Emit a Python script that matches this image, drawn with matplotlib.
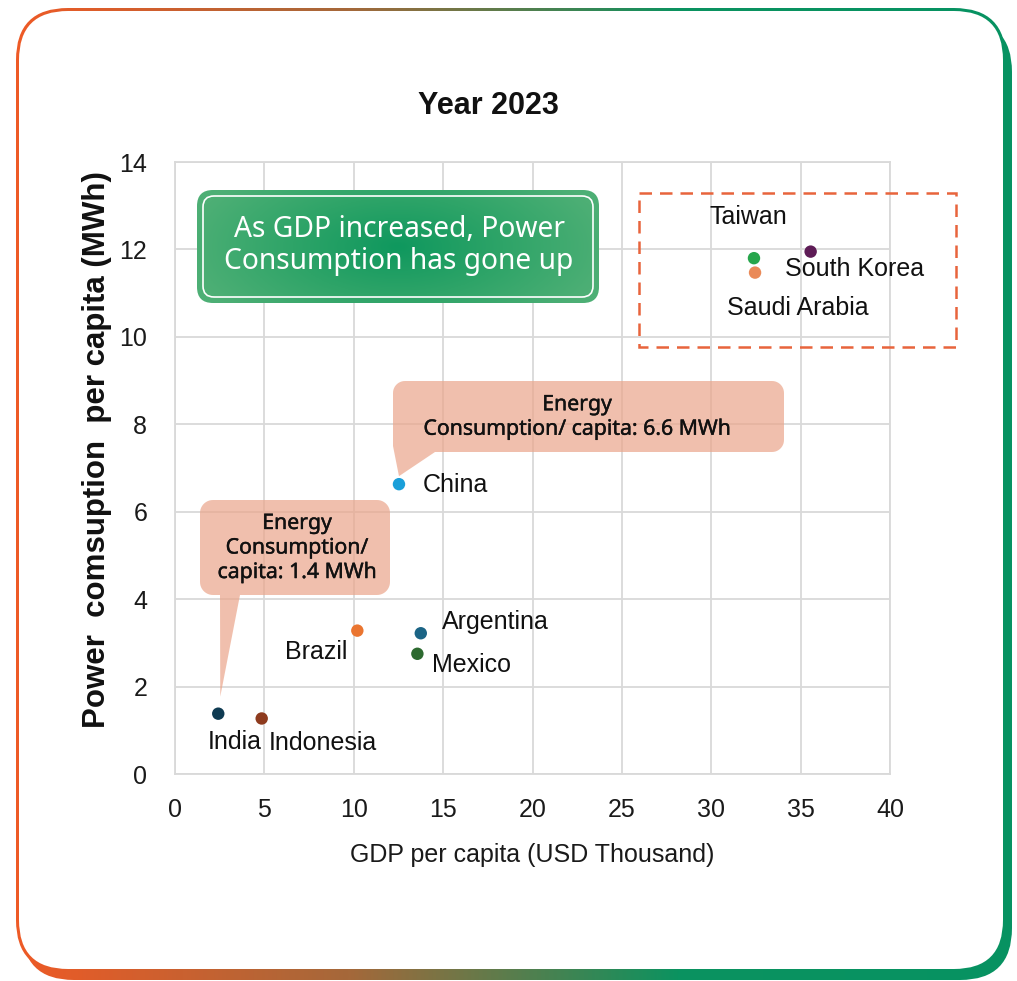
import numpy as np
import matplotlib
matplotlib.use("Agg")
import matplotlib.pyplot as plt
import matplotlib.patheffects as pe
from matplotlib.patches import FancyBboxPatch, Rectangle, PathPatch
from matplotlib.path import Path
from matplotlib.colors import LinearSegmentedColormap

# ---------------- data ----------------
countries = ["India", "Indonesia", "Brazil", "Argentina", "Mexico", "China",
             "Taiwan", "Saudi Arabia", "South Korea"]
gdp_per_capita = [2.42, 4.85, 10.2, 13.75, 13.56, 12.53, 32.39, 32.45, 35.56]
power_per_capita = [1.38, 1.27, 3.28, 3.22, 2.75, 6.63, 11.80, 11.47, 11.95]
point_colors = ["#0f3b52", "#8e3b1e", "#ea7530", "#1b6485", "#2d6a30",
                "#1a9fd9", "#27a64c", "#ea8a58", "#5e1c56"]
x_ticks = [0, 5, 10, 15, 20, 25, 30, 35, 40]
y_ticks = [0, 2, 4, 6, 8, 10, 12, 14]
title = "Year 2023"
x_label = "GDP per capita (USD Thousand)"
y_label = "Power  comsuption  per capita (MWh)"
headline = "As GDP increased, Power\nConsumption has gone up"
callout_china = "Energy\nConsumption/ capita: 6.6 MWh"
callout_india = "Energy\nConsumption/\ncapita: 1.4 MWh"

# label offsets (points) relative to each marker, with horizontal alignment
label_offsets = {
    "India": (-7.9, -20.2, "left"),
    "Indonesia": (5.0, -17.3, "left"),
    "Brazil": (-7.2, -15.1, "right"),
    "Argentina": (15.1, 7.9, "left"),
    "Mexico": (10.8, -7.9, "left"),
    "China": (17.3, -0.7, "left"),
    "Taiwan": (-31.7, 29.5, "left"),
    "Saudi Arabia": (-20.0, -25.2, "left"),
    "South Korea": (-18.7, -12.2, "left"),
}

W, H = 1017, 981
DPI = 100
plt.rcParams["font.family"] = ["Liberation Sans", "DejaVu Sans"]
fig = plt.figure(figsize=(W / DPI, H / DPI), dpi=DPI)
fig.patch.set_facecolor("white")

# ---------------- background frame (pixel coords) ----------------
bg = fig.add_axes([0, 0, 1, 1], zorder=-10)
bg.set_xlim(0, W)
bg.set_ylim(H, 0)
bg.axis("off")
frame_cmap = LinearSegmentedColormap.from_list("frame", ["#ee5a26", "#a5683a", "#0b9360", "#079262"])
grad = np.linspace(0, 1, 512)[None, :]


def rbox(x0, y0, x1, y1, r, **kw):
    return FancyBboxPatch((x0, y0), x1 - x0, y1 - y0,
                          boxstyle=f"round,pad=0,rounding_size={r}", **kw)


for (x0, y0, x1, y1) in [(16, 8, 1006, 972), (22, 20, 1012, 980)]:
    p = rbox(x0, y0, x1, y1, 52, facecolor="none", edgecolor="none")
    bg.add_patch(p)
    im = bg.imshow(grad, extent=[16, 1012, 980, 8], cmap=frame_cmap, aspect="auto", zorder=1)
    im.set_clip_path(p)
bg.add_patch(rbox(19, 11, 1003, 969, 49, facecolor="white", edgecolor="none", zorder=2))

# ---------------- main axes ----------------
ax = fig.add_axes([175 / W, 1 - 774 / H, 715 / W, 612 / H], zorder=1)
ax.set_facecolor("white")
ax.set_xlim(0, 40)
ax.set_ylim(0, 14)
ax.set_xticks(x_ticks)
ax.set_yticks(y_ticks)
ax.grid(True, color="#d9d9d9", linewidth=1.3)
ax.set_axisbelow(True)
for s in ax.spines.values():
    s.set_color("#d9d9d9")
    s.set_linewidth(1.3)
ax.tick_params(length=0, labelsize=18, colors="#1a1a1a")
ax.tick_params(axis="y", pad=20)
ax.tick_params(axis="x", pad=17)

ax.scatter(gdp_per_capita, power_per_capita, s=80, c=point_colors, zorder=5, linewidths=0)
for name, gx, py in zip(countries, gdp_per_capita, power_per_capita):
    dx, dy, ha = label_offsets[name]
    ax.annotate(name, (gx, py), xytext=(dx, dy), textcoords="offset points",
                ha=ha, va="center", fontsize=18, color="#111111", zorder=6)

ax.set_xlabel(x_label, fontsize=18, color="#1a1a1a", va="center")
ax.xaxis.set_label_coords(0.5, (774 - 855) / 612)
ax.set_ylabel(y_label, fontsize=22.5, fontweight="bold", color="#111111", va="center")
ax.yaxis.set_label_coords((97 - 175) / 715, (774 - 450) / 612)

fig.text(488 / W, 1 - 106 / H, title, fontsize=22, fontweight="bold",
         ha="center", va="center", color="#111111")

# ---------------- overlay (pixel coords) ----------------
ov = fig.add_axes([0, 0, 1, 1], zorder=5)
ov.set_xlim(0, W)
ov.set_ylim(H, 0)
ov.axis("off")
ov.patch.set_alpha(0)

# green headline box with radial gradient
gx0, gy0, gx1, gy1 = 197, 190, 599, 303
gbox = rbox(gx0, gy0, gx1, gy1, 16, facecolor="none", edgecolor="none")
ov.add_patch(gbox)
xx, yy = np.meshgrid(np.linspace(-1, 1, 300), np.linspace(-1, 1, 100))
rr = np.sqrt(xx ** 2 + (yy * 0.6) ** 2)
green_cmap = LinearSegmentedColormap.from_list("g", ["#0f985e", "#2ea468", "#4daf75"])
gim = ov.imshow(rr, extent=[gx0, gx1, gy1, gy0], cmap=green_cmap, aspect="auto",
                vmin=0, vmax=1.05, zorder=2)
gim.set_clip_path(gbox)
ov.add_patch(rbox(gx0 + 6, gy0 + 6, gx1 - 6, gy1 - 6, 11, facecolor="none",
                  edgecolor="white", linewidth=1.2, zorder=3))
ov.text((gx0 + gx1) / 2 + 1, (gy0 + gy1) / 2 - 1, headline, color="white", fontsize=20.3,
        family=["Noto Sans", "DejaVu Sans"], ha="center", va="center",
        linespacing=1.12, zorder=4)

# dashed highlight rectangle
ov.add_patch(Rectangle((639, 193), 956 - 639, 347 - 193, facecolor="none",
                       edgecolor="#e8643c", linewidth=1.8, linestyle=(0, (5, 3.2)), zorder=3))


def to_px(xd, yd):
    fx, fy = ax.transData.transform((xd, yd))
    return fx, H - fy


def arc(cx, cy, r, a0, a1, n=12):
    t = np.radians(np.linspace(a0, a1, n))
    return list(zip(cx + r * np.cos(t), cy + r * np.sin(t)))


def callout(x0, y0, x1, y1, r, tail_pts):
    # clockwise in screen coordinates (y down); tail_pts replace the bottom-left region
    v = []
    v += [(x0 + r, y0), (x1 - r, y0)]
    v += arc(x1 - r, y0 + r, r, -90, 0)
    v += [(x1, y1 - r)]
    v += arc(x1 - r, y1 - r, r, 0, 90)
    v += tail_pts
    v += [(x0, y0 + r)]
    v += arc(x0 + r, y0 + r, r, 180, 270)
    v.append(v[0])
    codes = [Path.MOVETO] + [Path.LINETO] * (len(v) - 2) + [Path.CLOSEPOLY]
    return Path(v, codes)


callout_face = "#eba58a"
medium = [pe.withStroke(linewidth=0.3, foreground="#111111")]
# China callout
cx_, cy_ = to_px(gdp_per_capita[5], power_per_capita[5])
tip = (cx_, cy_ - 8)
p1 = callout(393, 381, 784, 452, 12, [(435, 452), tip, (393, 446)])
ov.add_patch(PathPatch(p1, facecolor=callout_face, alpha=0.7, edgecolor="none", zorder=2))
ov.text(577, 417, callout_china, fontsize=15.3, family=["Noto Sans", "DejaVu Sans"],
        ha="center", va="center", color="#111111", linespacing=1.22, zorder=4,
        path_effects=medium)

# India callout
ix_, iy_ = to_px(gdp_per_capita[0], power_per_capita[0])
tip2 = (ix_ + 2, iy_ - 17)
p2 = callout(200, 500, 390, 595, 13, [(240, 595), tip2, (220, 595), (213, 595)]
             + arc(213, 582, 13, 90, 180))
ov.add_patch(PathPatch(p2, facecolor=callout_face, alpha=0.7, edgecolor="none", zorder=2))
ov.text(297, 548, callout_india, fontsize=15.3, family=["Noto Sans", "DejaVu Sans"],
        ha="center", va="center", color="#111111", linespacing=1.22, zorder=4,
        path_effects=medium)

fig.savefig("out.png", dpi=DPI, facecolor="white")
